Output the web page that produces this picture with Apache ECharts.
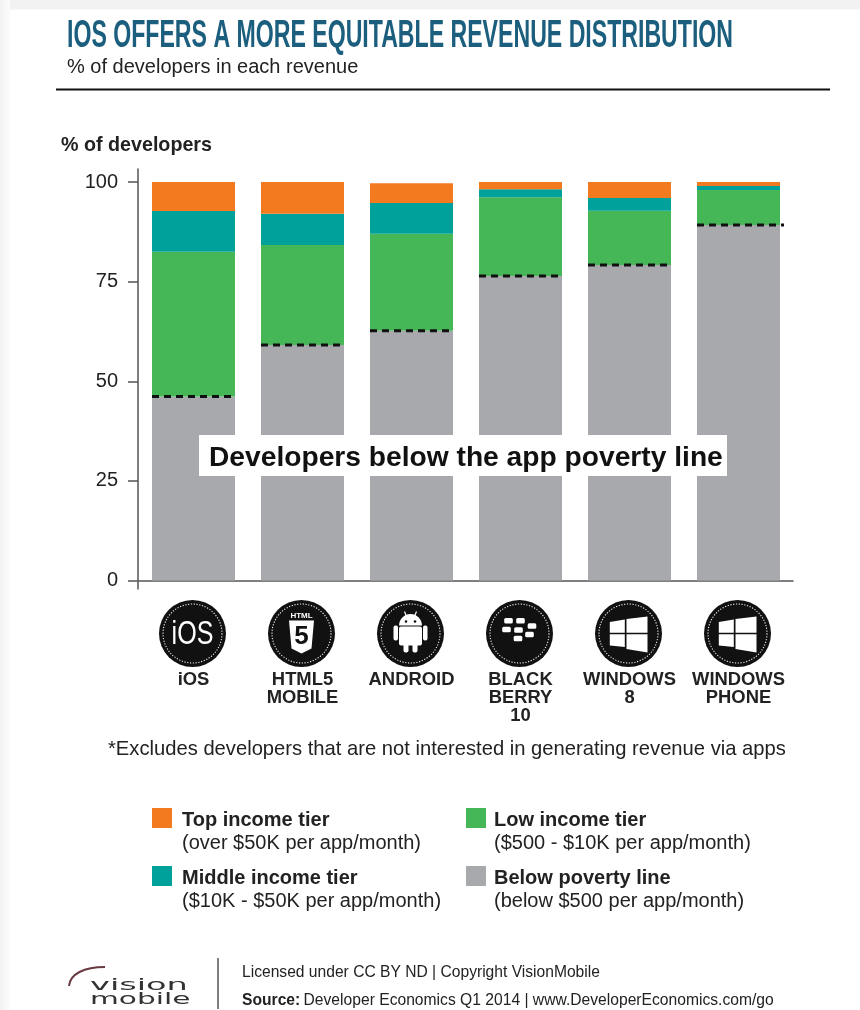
<!DOCTYPE html>
<html>
<head>
<meta charset="utf-8">
<style>html,body{margin:0;padding:0;background:#fff}#chart{width:860px;height:1010px}</style>
<script src="https://cdn.jsdelivr.net/npm/echarts@6/dist/echarts.min.js"></script>
</head>
<body>
<div id="chart"></div>
<script>
// Revenue tiers per platform, in % of developers
const categories = ['iOS', 'HTML5\nMOBILE', 'ANDROID', 'BLACK\nBERRY\n10', 'WINDOWS\n8', 'WINDOWS\nPHONE'];
const iconKinds = ['ios', 'html5', 'android', 'blackberry', 'windows', 'windows'];
const belowPoverty = [46.2, 59.1, 62.7, 76.4, 79.2, 89.2];
const lowIncome = [36.3, 25.1, 24.3, 19.8, 13.6, 8.8];
const middleIncome = [10.2, 7.8, 7.7, 2.0, 3.2, 1.0];
const topIncome = [7.3, 8.0, 5.0, 1.8, 4.0, 1.0];
const yTicks = [0, 25, 50, 75, 100];
const tierRanges = {
  'Top income tier': '(over $50K per app/month)',
  'Middle income tier': '($10K - $50K per app/month)',
  'Low income tier': '($500 - $10K per app/month)',
  'Below poverty line': '(below $500 per app/month)'
};

const FONT = '"Liberation Sans", Arial, sans-serif';
const INK = '#222';
const HEADING = 'IOS OFFERS A MORE EQUITABLE REVENUE DISTRIBUTION';
const HEADING_FONT = 'bold 39px ' + FONT;

// Horizontal squeeze that brings the condensed heading to its column width
function squeezeTo(text, font, width) {
  const ctx = document.createElement('canvas').getContext('2d');
  ctx.font = font;
  return width / ctx.measureText(text).width;
}

// Round platform badges, drawn in coordinates local to the badge centre
function polygon(points, fill) {
  return { type: 'polygon', shape: { points }, style: { fill: fill || '#fff' } };
}
function box(x, y, width, height, r, fill) {
  return { type: 'rect', shape: { x, y, width, height, r: r || 0 }, style: { fill: fill || '#fff' } };
}
const glyphs = {
  ios: () => [{
    type: 'text', scaleX: 0.76,
    style: { text: 'iOS', x: 0, y: 1, fill: '#fff', font: '33px ' + FONT, align: 'center', verticalAlign: 'middle' }
  }],
  html5: () => [
    { type: 'text', style: { text: 'HTML', x: 0, y: -18, fill: '#fff', font: 'bold 8px ' + FONT, align: 'center', verticalAlign: 'middle' } },
    polygon([[-12.5, -13], [12.5, -13], [10, 15], [0, 20], [-10, 15]]),
    { type: 'text', style: { text: '5', x: 0, y: 3, fill: '#111', font: 'bold 26px ' + FONT, align: 'center', verticalAlign: 'middle' } }
  ],
  android: () => [
    { type: 'sector', shape: { cx: 0, cy: -8, r0: 0, r: 11.5, startAngle: Math.PI, endAngle: Math.PI * 2 }, style: { fill: '#fff' } },
    { type: 'line', shape: { x1: -6, y1: -22, x2: -4, y2: -17 }, style: { stroke: '#fff', lineWidth: 1.2 } },
    { type: 'line', shape: { x1: 6, y1: -22, x2: 4, y2: -17 }, style: { stroke: '#fff', lineWidth: 1.2 } },
    { type: 'circle', shape: { cx: -4.5, cy: -12, r: 1.3 }, style: { fill: '#111' } },
    { type: 'circle', shape: { cx: 4.5, cy: -12, r: 1.3 }, style: { fill: '#111' } },
    box(-11.5, -7, 23, 19, 2),
    box(-17, -8, 4.5, 15, 2),
    box(12.5, -8, 4.5, 15, 2),
    box(-7, 10, 5, 9, 2),
    box(2, 10, 5, 9, 2)
  ],
  blackberry: () => [
    [-11, -12.7], [1, -12.7], [-13, -4], [-1, -3.5], [12.5, -7.5], [10, 1], [-1.5, 5]
  ].map(([x, y]) => box(x - 4.3, y - 2.7, 8.6, 5.4, 1.5)),
  windows: () => [
    polygon([[-18.7, -11.5], [-3.7, -14], [-3.7, -0.8], [-18.7, -0.8]]),
    polygon([[-2, -14.5], [19, -17], [19, -0.8], [-2, -0.8]]),
    polygon([[-18.7, 0.8], [-3.7, 0.8], [-3.7, 13.5], [-18.7, 12]]),
    polygon([[-2, 0.8], [19, 0.8], [19, 19], [-2, 15.5]])
  ]
};

function renderBadge(params, api) {
  const i = api.value(0);
  const base = api.coord([i, 0]);
  return {
    type: 'group',
    x: base[0] - 1,
    y: base[1] + 53,
    children: [
      { type: 'circle', shape: { cx: 0, cy: 0, r: 33.5 }, style: { fill: '#111' } },
      { type: 'circle', shape: { cx: 0, cy: 0, r: 29.5 }, style: { fill: 'none', stroke: '#eee', lineWidth: 1.1, lineDash: [1.2, 1.6] } }
    ].concat(glyphs[iconKinds[i]]())
  };
}

// Dashed marker on top of each grey column
function renderPovertyLine(params, api) {
  const i = api.value(0);
  const p = api.coord([i, api.value(1)]);
  const half = 41.5;
  return {
    type: 'line',
    shape: { x1: p[0] - half, y1: p[1], x2: p[0] + half + (i === categories.length - 1 ? 4 : 0), y2: p[1] },
    style: { stroke: '#111', lineWidth: 3, lineDash: [7, 5], lineCap: 'butt' }
  };
}

function barSeries(name, data, color) {
  return { type: 'bar', name, data, stack: 'tiers', barWidth: 83, itemStyle: { color }, silent: true, z: 2 };
}

function tierLegend(name, left, top, textGap) {
  return {
    data: [{ name, icon: 'rect' }],
    left, top,
    padding: 0,
    itemWidth: 20,
    itemHeight: 20,
    itemGap: 0,
    selectedMode: false,
    formatter: n => `{b|${n}}\n{r|${tierRanges[n]}}`,
    textStyle: {
      padding: [27, 0, 0, textGap],
      rich: {
        b: { fontFamily: FONT, fontWeight: 'bold', fontSize: 20, color: INK, lineHeight: 23 },
        r: { fontFamily: FONT, fontSize: 20, color: INK, lineHeight: 23 }
      }
    }
  };
}

const chart = echarts.init(document.getElementById('chart'), null, { renderer: 'canvas' });
chart.setOption({
  backgroundColor: '#fff',
  animation: false,
  grid: { left: 139, top: 169, width: 654, height: 420 },
  legend: [
    tierLegend('Top income tier', 152, 808, 5),
    tierLegend('Low income tier', 466, 808, 3),
    tierLegend('Middle income tier', 152, 866, 5),
    tierLegend('Below poverty line', 466, 866, 3)
  ],
  xAxis: {
    type: 'category',
    data: categories,
    axisLine: { lineStyle: { color: '#555', width: 1.5 } },
    axisTick: { show: false },
    axisLabel: {
      interval: 0,
      hideOverlap: false,
      margin: 82,
      verticalAlign: 'top',
      color: INK,
      fontFamily: FONT,
      fontWeight: 'bold',
      fontSize: 18.4,
      lineHeight: 18
    }
  },
  yAxis: {
    type: 'value',
    min: -2.13,
    max: 103.26,
    offset: 1,
    splitLine: { show: false },
    axisLine: { show: true, lineStyle: { color: '#555', width: 1.5 } },
    axisTick: { show: true, length: 10, customValues: yTicks, lineStyle: { color: '#555', width: 1.5 } },
    axisLabel: { customValues: yTicks, margin: 20, color: INK, fontFamily: FONT, fontSize: 20 }
  },
  series: [
    barSeries('Below poverty line', belowPoverty, '#A7A9AC'),
    barSeries('Low income tier', lowIncome, '#46B757'),
    barSeries('Middle income tier', middleIncome, '#00A19A'),
    barSeries('Top income tier', topIncome, '#F47A20'),
    {
      type: 'custom', name: 'poverty line', renderItem: renderPovertyLine, silent: true, z: 3,
      encode: { x: 0, y: 1 }, data: belowPoverty.map((v, i) => [i, v])
    },
    {
      type: 'custom', name: 'badges', renderItem: renderBadge, silent: true, clip: false, z: 3,
      encode: { x: 0 }, data: categories.map((c, i) => [i])
    }
  ],
  graphic: [
    // page edge shading
    { type: 'rect', z: -5, shape: { x: 0, y: 0, width: 860, height: 9.5 }, style: { fill: '#f2f2f2' } },
    {
      type: 'rect', z: -5, shape: { x: 0, y: 0, width: 10, height: 1010 },
      style: { fill: new echarts.graphic.LinearGradient(0, 0, 1, 0, [{ offset: 0, color: '#f3f3f3' }, { offset: 1, color: '#fcfcfc' }]) }
    },
    // heading
    {
      type: 'text', z: 10, x: 67, y: 36, scaleX: squeezeTo(HEADING, HEADING_FONT, 666),
      style: { text: HEADING, fill: '#1B5E7E', font: HEADING_FONT, verticalAlign: 'middle' }
    },
    { type: 'text', z: 10, x: 67, y: 67, style: { text: '% of developers in each revenue', fill: INK, font: '20px ' + FONT, verticalAlign: 'middle' } },
    { type: 'line', z: 10, shape: { x1: 56, y1: 89.5, x2: 830, y2: 89.5 }, style: { stroke: '#111', lineWidth: 2 } },
    { type: 'text', z: 10, x: 61, y: 146, style: { text: '% of developers', fill: INK, font: 'bold 19.7px ' + FONT, verticalAlign: 'middle' } },
    // callout across the columns
    { type: 'rect', z: 10, shape: { x: 199, y: 435, width: 528, height: 41 }, style: { fill: '#fff' } },
    { type: 'text', z: 11, x: 209, y: 458.5, style: { text: 'Developers below the app poverty line', fill: '#111', font: 'bold 28.2px ' + FONT, verticalAlign: 'middle' } },
    // footnote
    { type: 'text', z: 10, x: 108, y: 749, style: { text: '*Excludes developers that are not interested in generating revenue via apps', fill: INK, font: '20.2px ' + FONT, verticalAlign: 'middle' } },
    // footer
    { type: 'line', z: 10, shape: { x1: 218, y1: 958, x2: 218, y2: 1009 }, style: { stroke: '#555', lineWidth: 1.5 } },
    { type: 'text', z: 10, x: 242, y: 973, scaleX: 0.976, style: { text: 'Licensed under CC BY ND | Copyright VisionMobile', fill: INK, font: '16px ' + FONT, verticalAlign: 'middle' } },
    {
      type: 'text', z: 10, x: 242, y: 1001, scaleX: 0.978,
      style: {
        text: '{b|Source:} {r|Developer Economics Q1 2014 | www.DeveloperEconomics.com/go}',
        verticalAlign: 'middle',
        rich: { b: { font: 'bold 16px ' + FONT, fill: INK }, r: { font: '16px ' + FONT, fill: INK } }
      }
    },
    // wordmark
    {
      type: 'bezierCurve', z: 10,
      shape: { x1: 69, y1: 986, x2: 105, y2: 967, cpx1: 70, cpy1: 974, cpx2: 84, cpy2: 967 },
      style: { stroke: '#6a3a42', fill: 'none', lineWidth: 2 }
    },
    { type: 'text', z: 10, x: 90, y: 986, scaleX: 2.1, style: { text: 'vision', fill: '#333', font: '16px "DejaVu Sans"', verticalAlign: 'middle' } },
    { type: 'text', z: 10, x: 90, y: 999.5, scaleX: 1.85, style: { text: 'mobile', fill: '#333', font: '16px "DejaVu Sans"', verticalAlign: 'middle' } }
  ]
});
</script>
</body>
</html>
